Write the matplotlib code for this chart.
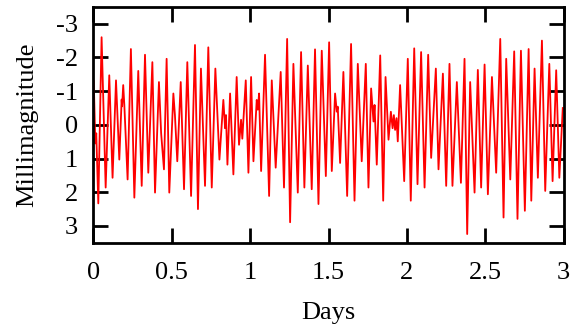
import matplotlib
matplotlib.use('Agg')
import matplotlib.pyplot as plt

# light curve (days, millimagnitude)
days = [0.002, 0.012, 0.018, 0.031, 0.052, 0.078, 0.101, 0.122, 0.144, 0.165,
        0.180, 0.183, 0.190, 0.197, 0.218, 0.239, 0.261, 0.286, 0.308, 0.329,
        0.350, 0.376, 0.393, 0.418, 0.432, 0.450, 0.467, 0.484, 0.510, 0.520,
        0.535, 0.557, 0.578, 0.599, 0.623, 0.648, 0.667, 0.686, 0.712, 0.733,
        0.755, 0.778, 0.804, 0.829, 0.840, 0.846, 0.855, 0.872, 0.893, 0.914,
        0.929, 0.942, 0.950, 0.972, 0.989, 1.006, 1.021, 1.042, 1.049, 1.057,
        1.070, 1.095, 1.121, 1.138, 1.163, 1.195, 1.216, 1.236, 1.255, 1.276,
        1.304, 1.325, 1.346, 1.368, 1.393, 1.414, 1.436, 1.457, 1.483, 1.504,
        1.521, 1.542, 1.553, 1.559, 1.574, 1.595, 1.619, 1.644, 1.666, 1.687,
        1.712, 1.738, 1.755, 1.772, 1.787, 1.794, 1.808, 1.830, 1.849, 1.864,
        1.883, 1.898, 1.909, 1.917, 1.925, 1.934, 1.942, 1.957, 1.983, 2.006,
        2.025, 2.047, 2.068, 2.091, 2.113, 2.136, 2.155, 2.185, 2.202, 2.230,
        2.251, 2.272, 2.291, 2.319, 2.345, 2.368, 2.385, 2.404, 2.432, 2.453,
        2.474, 2.496, 2.517, 2.543, 2.570, 2.596, 2.617, 2.634, 2.660, 2.685,
        2.706, 2.728, 2.753, 2.777, 2.794, 2.815, 2.836, 2.862, 2.883, 2.909,
        2.930, 2.953, 2.973, 2.995]
mmag = [-1.30, 0.55, 0.25, 2.33, -2.60, 1.86, -1.47, 1.57, -1.32, 1.03,
        -0.75, -0.55, -1.18, -0.60, 1.62, -2.25, 2.16, -1.60, 1.81, -2.08,
        1.42, -1.86, 2.01, -1.27, 0.25, 1.32, -1.96, 2.01, -0.93, -0.29,
        1.08, -1.27, 1.91, -1.86, 2.11, -2.37, 2.50, -1.67, 1.81, -2.30,
        1.86, -1.67, 1.03, -0.74, 0.10, -0.29, 1.18, -0.93, 1.47, -1.42,
        0.59, -0.15, 0.41, -1.32, 1.42, -1.42, 1.08, -0.74, -0.45, -0.93,
        1.37, -2.08, 2.11, -1.32, 1.27, -1.57, 1.86, -2.55, 2.89, -1.81,
        2.01, -2.16, 1.86, -1.76, 1.91, -2.24, 2.35, -2.20, 1.52, -2.45,
        1.37, -0.93, -0.39, -0.54, 1.13, -1.57, 2.11, -2.40, 2.25, -1.81,
        1.08, -1.81, 1.86, -1.08, -0.10, -0.59, 1.18, -2.06, 2.25, -1.42,
        0.44, -0.39, 0.10, -0.29, 0.15, -0.20, 0.49, -1.18, 1.67, -1.96,
        2.25, -2.27, 1.76, -2.16, 1.86, -2.08, 0.98, -1.67, 1.32, -1.52,
        1.81, -1.81, 1.81, -1.27, 1.72, -1.96, 3.24, -1.27, 2.01, -1.63,
        1.86, -1.79, 2.06, -1.42, 1.42, -2.55, 2.75, -1.96, 1.62, -2.18,
        2.79, -2.20, 2.55, -2.25, 2.25, -1.67, 1.57, -2.50, 1.96, -1.81,
        1.67, -1.62, 1.57, -0.50]

xticks = [0, 0.5, 1, 1.5, 2, 2.5, 3]
xticklabels = ['0', '0.5', '1', '1.5', '2', '2.5', '3']
yticks = [-3, -2, -1, 0, 1, 2, 3]

plt.rcParams['font.family'] = ['Liberation Serif', 'DejaVu Serif']
plt.rcParams['axes.unicode_minus'] = False

fig = plt.figure(figsize=(5.84, 3.29), dpi=100)
ax = fig.add_axes([0.160, 0.262, 0.805, 0.717])

ax.plot(days, mmag, color='red', linewidth=1.3)

ax.set_xlim(0, 3)
ax.set_ylim(3.5, -3.5)
ax.set_xticks(xticks)
ax.set_xticklabels(xticklabels)
ax.set_yticks(yticks)

ax.tick_params(direction='in', length=11, width=2, labelsize=19,
               top=True, right=True)
ax.tick_params(axis='x', pad=14)
ax.tick_params(axis='y', pad=11)
for spine in ax.spines.values():
    spine.set_linewidth(2)

ax.set_xlabel('Days', fontsize=19, labelpad=13)
ax.set_ylabel('Millimagnitude', fontsize=19, labelpad=13)

fig.savefig('out.png', dpi=100)
